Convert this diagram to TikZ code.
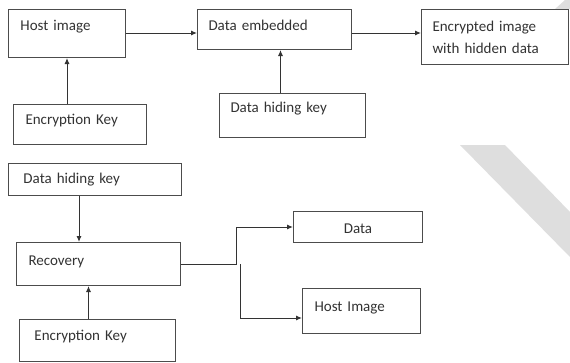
\documentclass[tikz,border=0pt]{standalone}
\usepackage{fontspec}
\setmainfont{Carlito}
\usetikzlibrary{arrows.meta}
\tikzset{main box/.style={draw=black!70,fill=white,line width=1pt,rectangle,anchor=north west,inner ysep=0pt,inner xsep=0pt,align=left,text=black!80,font=\fontsize{15}{22}\selectfont},
  tx/.style 2 args={text height=#1,text depth=#2},
  link/.style={draw=black!80,line width=1pt,-{Latex[length=6pt,width=5pt]}} }

\begin{document}
\begin{tikzpicture}[x=1pt,y=-1pt]
  \useasboundingbox (0,0) rectangle (570,362);
  % watermark bits
  \fill[black!13] (460,145) -- (505,145) -- (570,212) -- (570,257) -- cycle;
  \fill[black!13] (555,9) -- (565,0) -- (570,0) -- (570,9) -- cycle;

  % embedding side
  \node[main box,tx={21pt}{27pt},text width=117pt] (host) at (8,9) {\hspace*{12pt}Host image};
  \node[main box,tx={21pt}{19pt},text width=154pt] (embed) at (197,9) {\hspace*{11pt}Data embedded};
  \node[main box,tx={22pt}{33pt},text width=147pt] (enc) at (421,9) {\hspace*{11pt}Encrypted image\\\hspace*{11pt}with hidden data};
  \node[main box,tx={20pt}{20pt},text width=133pt] (ekey1) at (13,104) {\hspace*{12pt}Encryption Key};
  \node[main box,tx={19pt}{25pt},text width=146pt] (dhkey1) at (219,93) {\hspace*{11pt}Data hiding key};

  % recovery side
  \node[main box,tx={20pt}{12pt},text width=173pt] (dhkey2) at (8,163) {\hspace*{15pt}Data hiding key};
  \node[main box,tx={23pt}{20pt},text width=164pt] (recov) at (16,242) {\hspace*{12pt}Recovery};
  \node[main box,tx={21pt}{21pt},text width=156pt] (ekey2) at (19,319) {\hspace*{15pt}Encryption Key};
  \node[main box,tx={22pt}{9pt},text width=129pt,align=center] (data) at (293,211) {Data};
  \node[main box,tx={23pt}{22pt},text width=118pt] (host2) at (302,288) {\hspace*{12pt}Host Image};

  \coordinate (split) at (236,264);
  \coordinate (split2) at (240,264);
  \coordinate (hin) at (302,318);

  \draw[link] (host.east |- 0,33) -- (embed.west |- 0,33);
  \draw[link] (embed.east |- 0,33) -- (enc.west |- 0,33);
  \draw[link] (ekey1.north -| host.south) -- (host.south);
  \draw[link] ([xshift=6pt]embed.south |- dhkey1.north) -- ([xshift=6pt]embed.south);

  \draw[link] ([xshift=-16pt]dhkey2.south) -- ([xshift=-16pt]dhkey2.south |- recov.north);
  \draw[link] ([xshift=-9pt]ekey2.north) -- ([xshift=-9pt]ekey2.north |- recov.south);
  \draw[link] (recov.east |- split) -- (split) |- (data.west);
  \draw[link] (split2) |- (hin);
\end{tikzpicture}
\end{document}
